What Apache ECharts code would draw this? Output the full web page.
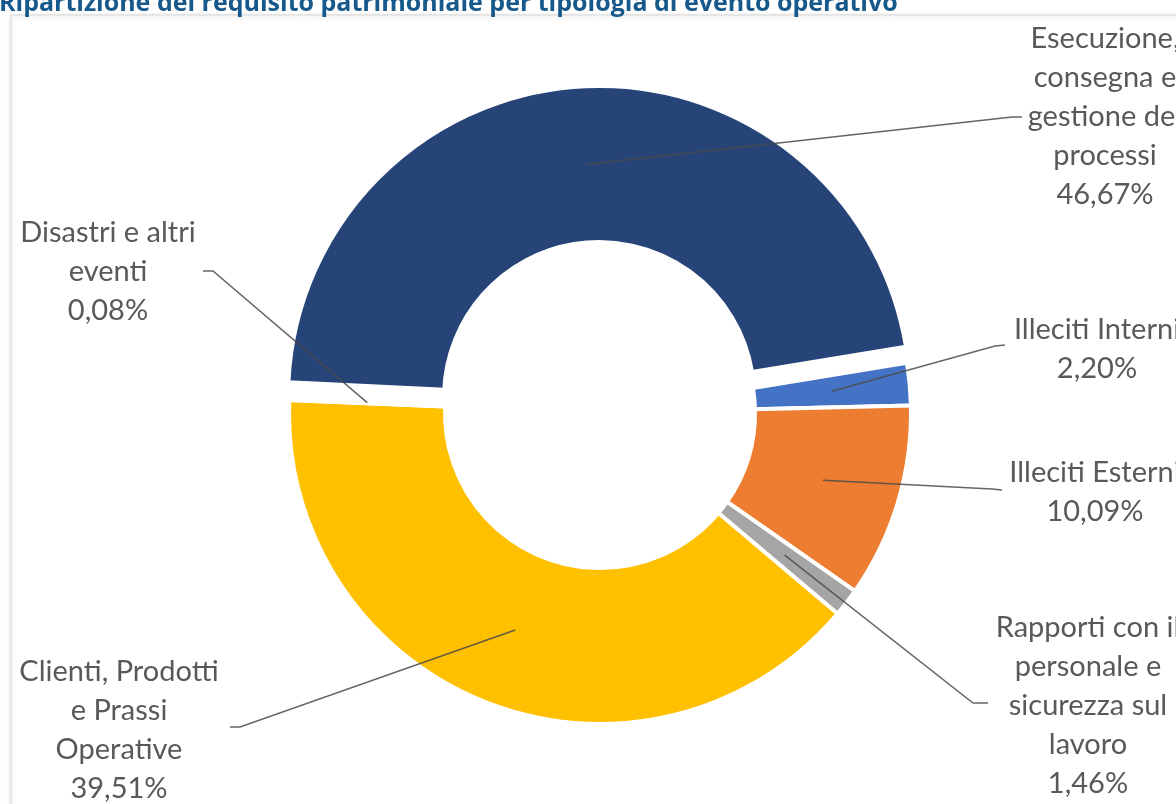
<!DOCTYPE html>
<html>
<head>
<meta charset="utf-8">
<style>
  html, body { margin: 0; padding: 0; background: #fff; }
  #chart { width: 1176px; height: 804px; }
</style>
<script src="https://cdn.jsdelivr.net/npm/echarts@6/dist/echarts.min.js"></script>
</head>
<body>
<div id="chart"></div>
<script>
const title = 'Ripartizione del requisito patrimoniale per tipologia di evento operativo'

// categories in drawing order (clockwise, starting at the top-right)
const categories = [
  'Illeciti Interni',
  'Illeciti Esterni',
  'Rapporti con il\npersonale e\nsicurezza sul\nlavoro',
  'Clienti, Prodotti\ne Prassi\nOperative',
  'Disastri e altri\neventi',
  'Esecuzione,\nconsegna e\ngestione dei\nprocessi',
]
const shares = [2.20, 10.09, 1.46, 39.51, 0.08, 46.67]
const colors = ['#4472C4', '#ED7D31', '#A5A5A5', '#FFC000', '#5B9BD5', '#264478']
const explodedIndex = 5

// ring geometry
const center = [600, 413]
const radius = [155, 311]
const startAngle = 9.3
const explodeOffset = 16

// where each label sits, and the elbow + end of its leader line
const labelSpots = [
  { x: 1097, y: 349, line: [[995, 346], [1005, 345]] },
  { x: 1095, y: 492, line: [[992, 489], [1002, 490]] },
  { x: 1088, y: 706, line: [[973, 703], [988, 703]] },
  { x: 119, y: 730, line: [[240, 727], [230, 727]] },
  { x: 108, y: 272, line: [[213, 271], [203, 271]] },
  { x: 1105, y: 117, line: [[1012, 117], [1022, 117]] },
]

const total = shares.reduce((a, b) => a + b, 0)
let acc = 0
// mid angle of each slice, degrees clockwise from 12 o'clock
const midAngles = shares.map(v => {
  const m = (90 - startAngle) + (acc + v / 2) / total * 360
  acc += v
  return m
})
const rad = d => d * Math.PI / 180
const explodedCenter = [
  center[0] + explodeOffset * Math.sin(rad(midAngles[explodedIndex])),
  center[1] - explodeOffset * Math.cos(rad(midAngles[explodedIndex])),
]

const fmtPct = v => v.toFixed(2).replace('.', ',') + '%'
const clear = { color: 'rgba(0,0,0,0)', borderWidth: 0 }

// coloured ring, only the slices picked by isShown are painted
function ringSeries(isShown, c) {
  return {
    type: 'pie',
    z: 2,
    center: c,
    radius,
    startAngle,
    clockwise: true,
    silent: true,
    animation: false,
    label: { show: false },
    labelLine: { show: false },
    data: shares.map((v, i) => ({
      name: categories[i],
      value: v,
      itemStyle: isShown(i) ? { color: colors[i], borderColor: '#fff', borderWidth: 4 } : clear,
    })),
  }
}

// invisible ring on top that only carries the labels and leader lines
const labelSeries = {
  type: 'pie',
  z: 3,
  center,
  radius,
  startAngle,
  clockwise: true,
  avoidLabelOverlap: false,
  silent: true,
  animation: false,
  data: shares.map((v, i) => ({ name: categories[i], value: v, itemStyle: clear })),
  label: {
    position: 'outside',
    formatter: p => p.name + '\n' + fmtPct(p.value),
    fontFamily: 'Lato',
    fontSize: 29,
    lineHeight: 39,
    color: '#595959',
  },
  labelLine: { show: true, lineStyle: { color: '#4a4a4a', width: 1.5, opacity: 0.85 } },
  labelLayout: params => {
    const i = params.dataIndex
    const spot = labelSpots[i]
    const c = i === explodedIndex ? explodedCenter : center
    const rMid = (radius[0] + radius[1]) / 2
    const m = rad(midAngles[i])
    const start = [c[0] + rMid * Math.sin(m), c[1] - rMid * Math.cos(m)]
    return {
      x: spot.x,
      y: spot.y,
      align: 'center',
      verticalAlign: 'middle',
      labelLinePoints: [start, spot.line[0], spot.line[1]],
    }
  },
}

const chart = echarts.init(document.getElementById('chart'), null, { renderer: 'canvas' })
chart.setOption({
  backgroundColor: '#fff',
  graphic: [
    {
      type: 'rect',
      z: 0,
      shape: { x: 11, y: 15, width: 1260, height: 900 },
      style: {
        fill: '#fff', stroke: '#d6d6d6', lineWidth: 1,
        shadowBlur: 5, shadowColor: 'rgba(0,0,0,0.18)', shadowOffsetX: 1, shadowOffsetY: 2,
      },
    },
    {
      type: 'text',
      z: 1,
      x: -1,
      y: 4,
      style: {
        text: title,
        font: 'bold 25px "Open Sans"',
        fill: '#16598A',
        verticalAlign: 'middle',
      },
    },
  ],
  series: [
    ringSeries(i => i !== explodedIndex, center),
    ringSeries(i => i === explodedIndex, explodedCenter),
    labelSeries,
  ],
})
</script>
</body>
</html>
